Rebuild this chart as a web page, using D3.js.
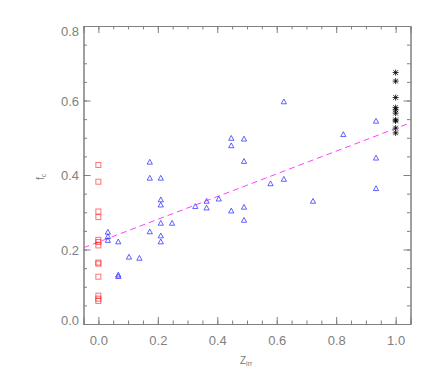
<!DOCTYPE html>
<html>
<head>
<meta charset="utf-8">
<script src="https://cdn.jsdelivr.net/npm/d3@7"></script>
<style>
  body { margin: 0; background: #fff; }
  text { font-family: "Liberation Sans", Arial, sans-serif; }
</style>
</head>
<body>
<svg id="drawing_region"></svg>
<script>
// red squares (all at Z = 0)
const sqZ = [0, 0, 0, 0, 0, 0, 0, 0, 0, 0, 0, 0, 0];
const sqF = [0.427, 0.382, 0.302, 0.287, 0.226, 0.220, 0.211, 0.165, 0.162, 0.127, 0.076, 0.068, 0.062];

// blue triangles
const triZ = [0.032, 0.032, 0.032, 0.067, 0.067, 0.067, 0.103, 0.138, 0.173, 0.173, 0.173,
              0.21, 0.21, 0.21, 0.21, 0.21, 0.21, 0.248, 0.326, 0.364, 0.364, 0.405,
              0.447, 0.447, 0.447, 0.49, 0.49, 0.49, 0.49, 0.579, 0.624, 0.624, 0.722,
              0.824, 0.934, 0.934, 0.934];
const triF = [0.246, 0.234, 0.224, 0.220, 0.131, 0.127, 0.179, 0.176, 0.434, 0.391, 0.247,
              0.391, 0.333, 0.319, 0.270, 0.236, 0.220, 0.270, 0.315, 0.329, 0.311, 0.335,
              0.498, 0.478, 0.303, 0.496, 0.436, 0.313, 0.278, 0.376, 0.596, 0.388, 0.329,
              0.508, 0.544, 0.445, 0.363];

// black asterisks (all at Z = 1)
const astZ = [1, 1, 1, 1, 1, 1, 1, 1, 1, 1];
const astF = [0.675, 0.652, 0.608, 0.581, 0.575, 0.566, 0.548, 0.545, 0.526, 0.513];

// linear fit  f = fitA + fitB * Z
const fitA = 0.220;
const fitB = 0.305;

const xTicks = [0.0, 0.2, 0.4, 0.6, 0.8, 1.0];
const yTicks = [0.0, 0.2, 0.4, 0.6, 0.8];
const xMinor = d3.range(0, 21).map(i => i * 0.05);
const yMinor = d3.range(0, 17).map(i => i * 0.05);

const config = {
    width: 436,
    height: 378,
    margin: {top: 26, right: 25.5, bottom: 54, left: 83.5}
};
const W = config.width - config.margin.left - config.margin.right;
const H = config.height - config.margin.top - config.margin.bottom;
const axisCol = '#808080';

const svg = d3.select('#drawing_region')
    .attr('width', config.width)
    .attr('height', config.height);

const chart = svg.append('g')
    .attr('transform', `translate(${config.margin.left}, ${config.margin.top})`);

const x = d3.scaleLinear().domain([-0.05, 1.05]).range([0, W]);
const y = d3.scaleLinear().domain([0, 0.8]).range([H, 0]);

chart.append('clipPath').attr('id', 'clip')
    .append('rect').attr('width', W).attr('height', H);

// axes: major ticks (labelled on bottom/left), minor ticks, mirrored on top/right
function styleAxis(g) {
    g.select('.domain').attr('stroke', axisCol);
    g.selectAll('.tick line').attr('stroke', axisCol);
    g.selectAll('.tick text').attr('fill', '#808080').attr('font-size', 13);
}

chart.append('g').attr('transform', `translate(0, ${H})`)
    .call(d3.axisBottom(x).tickValues(xTicks).tickSize(-7).tickPadding(12).tickFormat(d3.format('.1f')))
    .call(styleAxis);
chart.append('g').attr('transform', `translate(0, ${H})`)
    .call(d3.axisBottom(x).tickValues(xMinor).tickSize(-3.5).tickFormat(''))
    .call(styleAxis);
chart.append('g')
    .call(d3.axisTop(x).tickValues(xTicks).tickSize(-7).tickFormat(''))
    .call(styleAxis);
chart.append('g')
    .call(d3.axisTop(x).tickValues(xMinor).tickSize(-3.5).tickFormat(''))
    .call(styleAxis);

const yAxisG = chart.append('g')
    .call(d3.axisLeft(y).tickValues(yTicks).tickSize(-7).tickPadding(4.5).tickFormat(d3.format('.1f')))
    .call(styleAxis);
// end labels sit slightly inside, like the original
yAxisG.selectAll('.tick text')
    .attr('dy', d => d === 0 ? '0.05em' : d === 0.8 ? '0.7em' : '0.35em');
chart.append('g')
    .call(d3.axisLeft(y).tickValues(yMinor).tickSize(-3.5).tickFormat(''))
    .call(styleAxis);
chart.append('g').attr('transform', `translate(${W}, 0)`)
    .call(d3.axisRight(y).tickValues(yTicks).tickSize(-7).tickFormat(''))
    .call(styleAxis);
chart.append('g').attr('transform', `translate(${W}, 0)`)
    .call(d3.axisRight(y).tickValues(yMinor).tickSize(-3.5).tickFormat(''))
    .call(styleAxis);

// fit line
const fitLine = d3.line().x(d => x(d)).y(d => y(fitA + fitB * d));
chart.append('path')
    .datum(x.domain())
    .attr('d', fitLine)
    .attr('clip-path', 'url(#clip)')
    .attr('fill', 'none')
    .attr('stroke', '#ff40ff')
    .attr('stroke-width', 1)
    .attr('stroke-dasharray', '6,4');

// squares
const sqData = sqZ.map((z, i) => ({z: z, f: sqF[i]}));
chart.selectAll('.sq')
    .data(sqData)
    .enter()
    .append('rect')
    .attr('class', 'sq')
    .attr('x', d => x(d.z) - 2.5)
    .attr('y', d => y(d.f) - 2.5)
    .attr('width', 5)
    .attr('height', 5)
    .attr('fill', 'none')
    .attr('stroke', '#ff0000')
    .attr('stroke-opacity', 0.55)
    .attr('stroke-width', 1);

// triangles
const triData = triZ.map((z, i) => ({z: z, f: triF[i]}));
chart.selectAll('.tri')
    .data(triData)
    .enter()
    .append('path')
    .attr('class', 'tri')
    .attr('transform', d => `translate(${x(d.z)}, ${y(d.f)})`)
    .attr('d', 'M0,-3L2.6,1.8L-2.6,1.8Z')
    .attr('fill', 'none')
    .attr('stroke', '#2020ff')
    .attr('stroke-opacity', 0.7)
    .attr('stroke-width', 1);

// asterisks
const astData = astZ.map((z, i) => ({z: z, f: astF[i]}));
chart.selectAll('.ast')
    .data(astData)
    .enter()
    .append('path')
    .attr('class', 'ast')
    .attr('transform', d => `translate(${x(d.z)}, ${y(d.f)})`)
    .attr('d', 'M-3,0L3,0M0,-3L0,3M-2.3,-2.3L2.3,2.3M-2.3,2.3L2.3,-2.3')
    .attr('fill', 'none')
    .attr('stroke', '#000')
    .attr('stroke-opacity', 0.8)
    .attr('stroke-width', 1);

// axis titles
const xt = svg.append('text')
    .attr('x', 240)
    .attr('y', 364)
    .attr('fill', '#7a7a7a')
    .attr('font-size', 10);
xt.append('tspan').text('Z');
xt.append('tspan').attr('font-size', 7).attr('dy', 2).text('irr');

const yt = svg.append('text')
    .attr('transform', 'translate(44, 180) rotate(-90)')
    .attr('fill', '#7a7a7a')
    .attr('font-size', 10);
yt.append('tspan').text('f');
yt.append('tspan').attr('font-size', 7).attr('dy', 2).text('c');
</script>
</body>
</html>
